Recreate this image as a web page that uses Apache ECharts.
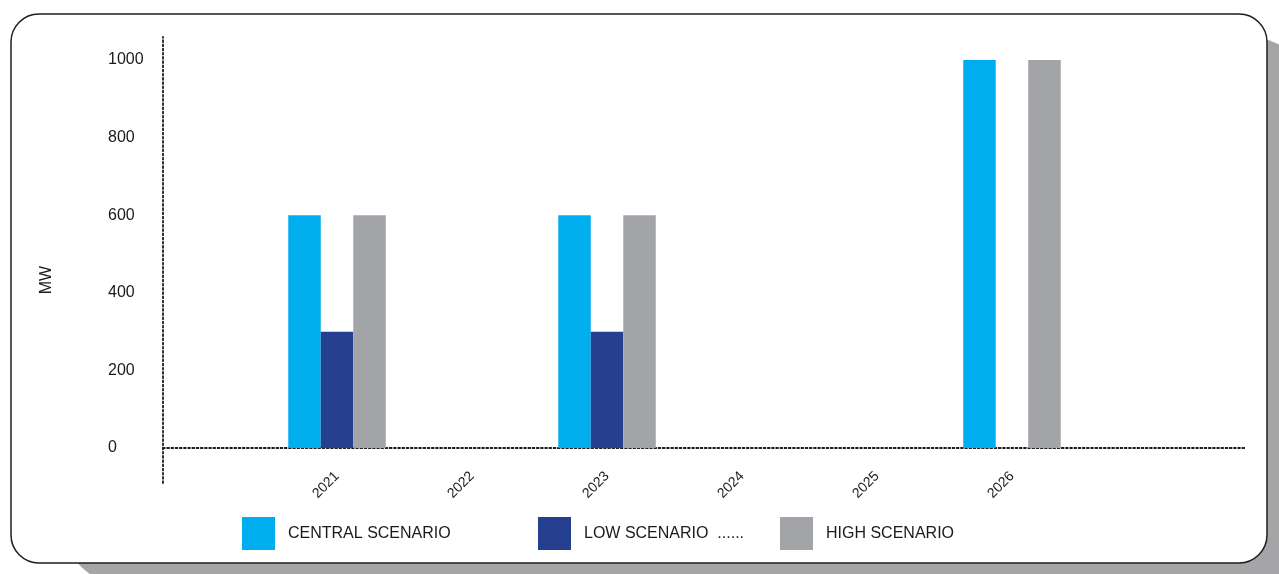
<!DOCTYPE html>
<html>
<head>
<meta charset="utf-8">
<title>MW by scenario</title>
<script src="https://cdn.jsdelivr.net/npm/echarts@6/dist/echarts.min.js"></script>
<style>
  html, body { margin: 0; padding: 0; background: #ffffff; }
  #chart { width: 1279px; height: 574px; }
</style>
</head>
<body>
<div id="chart"></div>
<script>
// Capacity additions (MW) per year for each scenario
const years = [2021, 2022, 2023, 2024, 2025, 2026];
const central = [600, null, 600, null, null, 1000];
const low = [300, null, 300, null, null, null];
const high = [600, null, 600, null, null, 1000];
const yTicks = [0, 200, 400, 600, 800, 1000];

const FONT = '"Liberation Sans", Arial, Helvetica, sans-serif';
const INK = '#1a1a1a';
const COLORS = { central: '#00aeef', low: '#24408e', high: '#a3a4a8' };

function pairs(values) {
  return years
    .map((y, i) => [y, values[i]])
    .filter(p => p[1] !== null);
}

const dotted = { color: INK, width: 1.8, type: [1.8, 2.4] };

function legendAt(left, name, formatter) {
  return {
    left: left,
    top: 517,
    padding: 0,
    icon: 'rect',
    itemWidth: 33,
    itemHeight: 33,
    selectedMode: false,
    data: [name],
    formatter: formatter || '{name}',
    textStyle: {
      fontFamily: FONT,
      fontSize: 16,
      color: INK,
      padding: [0, 0, 0, 8]
    }
  };
}

const chart = echarts.init(document.getElementById('chart'), null, { renderer: 'canvas' });

chart.setOption({
  animation: false,
  backgroundColor: '#ffffff',
  textStyle: { fontFamily: FONT },
  graphic: [
    {
      type: 'rect',
      z: -20,
      silent: true,
      shape: { x: 61, y: 37.5, width: 1256, height: 549, r: 68 },
      style: { fill: '#a5a5a8' }
    },
    {
      type: 'rect',
      z: -10,
      silent: true,
      shape: { x: 11, y: 14, width: 1256, height: 549, r: 28 },
      style: { fill: '#ffffff', stroke: '#1e1e1e', lineWidth: 1.5 }
    }
  ],
  legend: [
    legendAt(242, 'CENTRAL SCENARIO'),
    legendAt(538, 'LOW SCENARIO', name => name + '  ......'),
    legendAt(780, 'HIGH SCENARIO')
  ],
  grid: { left: 163, right: 34, top: 37, bottom: 91, containLabel: false },
  xAxis: {
    type: 'value',
    min: 2019.711,
    max: 2027.726,
    axisLine: { show: true, onZero: true, lineStyle: dotted },
    axisTick: { show: false },
    splitLine: { show: false },
    axisLabel: {
      customValues: years,
      rotate: 45,
      margin: -9,
      fontFamily: FONT,
      fontSize: 14,
      color: INK,
      formatter: v => String(Math.round(v))
    }
  },
  yAxis: {
    type: 'value',
    min: -90,
    max: 1059.5,
    name: 'MW',
    nameLocation: 'middle',
    nameGap: 108,
    nameTextStyle: { fontFamily: FONT, fontSize: 16, color: INK, padding: [0, 40, 0, 0] },
    axisLine: { show: true, lineStyle: dotted },
    axisTick: { show: false },
    splitLine: { show: false },
    axisLabel: {
      customValues: yTicks,
      align: 'left',
      margin: 55,
      fontFamily: FONT,
      fontSize: 16,
      color: INK,
      formatter: v => String(Math.round(v))
    }
  },
  series: [
    {
      name: 'CENTRAL SCENARIO',
      type: 'bar',
      barWidth: 32.5,
      barGap: '0%',
      itemStyle: { color: COLORS.central },
      data: pairs(central)
    },
    {
      name: 'LOW SCENARIO',
      type: 'bar',
      barWidth: 32.5,
      barGap: '0%',
      itemStyle: { color: COLORS.low },
      data: pairs(low)
    },
    {
      name: 'HIGH SCENARIO',
      type: 'bar',
      barWidth: 32.5,
      barGap: '0%',
      itemStyle: { color: COLORS.high },
      data: pairs(high)
    }
  ]
});
</script>
</body>
</html>
